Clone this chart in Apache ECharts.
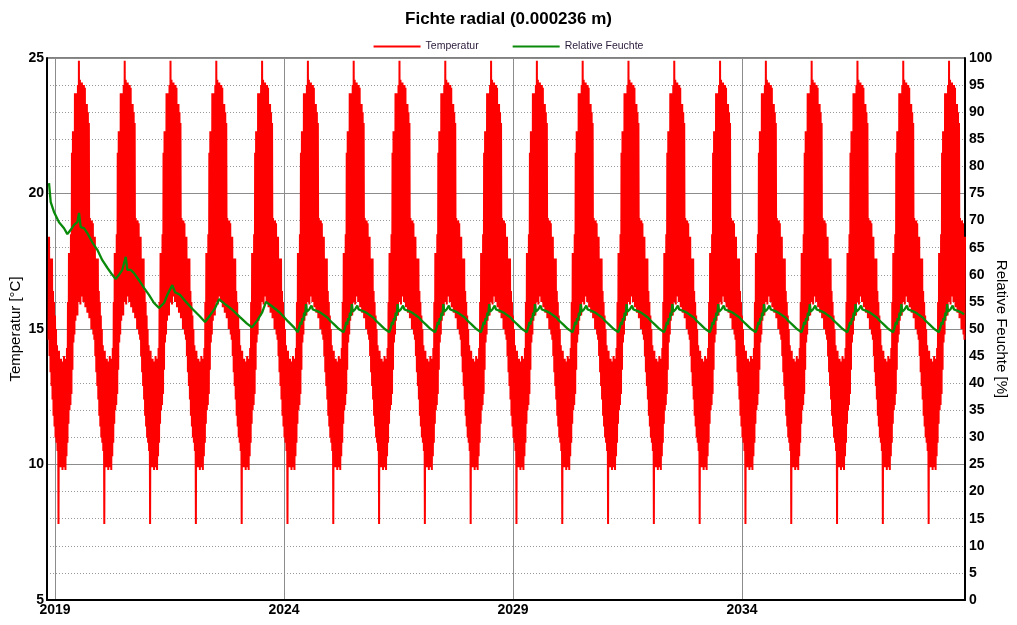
<!DOCTYPE html>
<html><head><meta charset="utf-8">
<script src="https://cdn.jsdelivr.net/npm/echarts@6/dist/echarts.min.js"></script>
<style>html,body{margin:0;padding:0;background:#fff}#c{width:1017px;height:625px}</style>
</head><body><div id="c"></div>
<script>
// ---- data ----
const titleText = 'Fichte radial (0.000236 m)';
const seriesNames = ['Temperatur', 'Relative Feuchte'];
const xTickYears = [2019, 2024, 2029, 2034];
const xStart = 2018.825, xEnd = 2038.87;
const dataStart = 2018.85, dataEnd = 2038.87;
// one climate year of temperature (repeats every year), 46 slots: daily-ish highs and lows [°C]
const tempHigh = [15.5,15.0,14.4,14.0,14.2,13.6,13.9,13.4,13.8,14.0,13.5,13.9,14.3,16.0,17.8,17.2,18.5,21.5,22.3,21.0,23.7,23.6,
  23.7,24.0,24.9,24.2,24.0,24.1,23.8,24.0,23.9,23.3,23.3,23.0,22.6,19.1,18.9,19.0,18.9,18.3,18.4,17.6,17.1,17.6,16.4,16.0];
const tempLow = [11.0,10.8,10.5,7.8,10.2,9.9,10.4,9.8,10.0,9.9,9.8,10.3,10.8,11.5,12.0,12.2,12.6,13.5,14.5,14.8,15.3,15.8,
  15.5,16.0,16.3,15.9,16.2,16.5,16.0,16.4,15.8,16.1,15.6,15.9,15.4,15.5,15.0,15.3,14.8,14.6,14.0,13.4,12.9,12.4,11.8,11.4];
// relative humidity, first years (drying phase) [year, %]
const rhEarlyT = [2018.869,2018.906,2018.978,2019.087,2019.197,2019.269,2019.343,2019.415,2019.487,2019.524,2019.561,2019.633,
  2019.705,2019.814,2019.924,2020.033,2020.142,2020.251,2020.325,2020.397,2020.469,2020.544,2020.579,2020.653,2020.725,2020.834,
  2020.943,2021.052,2021.162,2021.271,2021.380,2021.452,2021.561,2021.620,2021.729,2021.860,2022.013,2022.166,2022.275,2022.384,
  2022.493,2022.581,2022.712,2022.865,2023.039,2023.192,2023.301,2023.410,2023.520,2023.607,2023.738,2023.913,2024.087,2024.218];
const rhEarlyV = [76.9,73.4,71.6,69.7,68.6,67.5,68.3,69.2,69.7,71.4,68.8,68.6,
  67.7,66.0,64.6,62.7,61.3,60.0,59.2,60.0,60.9,63.3,60.9,60.9,60.3,59.0,
  57.6,56.3,54.8,53.9,54.8,56.3,58.1,56.8,56.3,55.0,53.6,52.3,51.3,52.5,
  53.8,55.5,54.6,53.6,52.2,51.0,50.3,51.5,53.0,55.0,54.2,53.0,51.4,50.3];
// relative humidity, steady yearly cycle (from 2024 on): year fraction, %
const rhCycleF = [0.30,0.33,0.36,0.38,0.40,0.42,0.44,0.46,0.48,0.50,0.52,0.55,0.58,0.60,0.63,0.66,0.70,0.75,0.80,0.85,0.90,0.95,1.00,1.05,1.10,1.15,1.20,1.25];
const rhCycleV = [49.4,50.2,51.3,50.8,52.0,51.6,53.0,52.4,54.6,53.2,52.9,53.6,53.9,54.3,53.6,53.5,53.4,53.2,53.0,52.7,52.4,52.1,51.6,51.2,50.8,50.4,50.0,49.7];

// ---- build series ----
const tempData = [];
for (let y = 2018; y <= 2038; y++) {
  for (let k = 0; k < tempHigh.length; k++) {
    const t1 = y + k / tempHigh.length, t2 = y + (k + 0.5) / tempHigh.length;
    if (t1 >= dataStart && t1 <= dataEnd) tempData.push([t1, tempHigh[k]]);
    if (t2 >= dataStart && t2 <= dataEnd) tempData.push([t2, tempLow[k]]);
  }
}
const rhData = rhEarlyT.map((t, i) => [t, rhEarlyV[i]]);
for (let y = 2024; y <= 2038; y++) {
  for (let i = 0; i < rhCycleF.length; i++) {
    const t = y + rhCycleF[i];
    if (t > 2024.25 && t <= dataEnd) rhData.push([t, rhCycleV[i]]);
  }
}

const FONT = '"Liberation Sans", Arial, sans-serif';
const chart = echarts.init(document.getElementById('c'), null, {renderer: 'canvas'});
chart.setOption({
  animation: false,
  backgroundColor: '#fff',
  title: {text: titleText, left: 'center', top: 6,
    textStyle: {fontFamily: FONT, fontSize: 17, fontWeight: 'bold', color: '#000'}},
  legend: {top: 36, left: 'center', itemWidth: 47, itemHeight: 2, itemGap: 34, icon: 'rect',
    textStyle: {fontFamily: FONT, fontSize: 10.5, color: '#2a1a3a'},
    data: seriesNames},
  grid: {left: 47, right: 52, top: 58, bottom: 25, containLabel: false, outerBoundsMode: 'none',
    show: true, borderColor: '#000', borderWidth: 1},
  xAxis: {
    type: 'value', min: xStart, max: xEnd,
    axisLine: {show: true, onZero: false, lineStyle: {color: '#000', width: 2}},
    axisTick: {show: false, customValues: xTickYears},
    axisLabel: {customValues: xTickYears, formatter: v => String(Math.round(v)),
      fontFamily: FONT, fontSize: 14, fontWeight: 'bold', color: '#000', margin: 3},
    splitLine: {show: true, lineStyle: {color: '#8c8c8c', width: 1}}
  },
  yAxis: [{
    type: 'value', min: 5, max: 25, interval: 5, position: 'left',
    name: 'Temperatur [°C]', nameLocation: 'middle', nameGap: 24, nameRotate: 90, nameMoveOverlap: false,
    nameTextStyle: {fontFamily: FONT, fontSize: 15, color: '#000'},
    axisLine: {show: true, onZero: false, lineStyle: {color: '#000', width: 2}},
    axisTick: {show: false},
    axisLabel: {fontFamily: FONT, fontSize: 14, fontWeight: 'bold', color: '#000', margin: 3},
    splitLine: {show: true, lineStyle: {color: '#8c8c8c', width: 1}},
    minorTick: {show: false, splitNumber: 5},
    minorSplitLine: {show: true, lineStyle: {color: '#9a9a9a', width: 1, type: [1, 2]}}
  }, {
    type: 'value', min: 0, max: 100, interval: 5, position: 'right',
    name: 'Relative Feuchte [%]', nameLocation: 'middle', nameGap: 29, nameRotate: -90, nameMoveOverlap: false,
    nameTextStyle: {fontFamily: FONT, fontSize: 15, color: '#000'},
    axisLine: {show: true, onZero: false, lineStyle: {color: '#000', width: 2}},
    axisTick: {show: false},
    axisLabel: {fontFamily: FONT, fontSize: 14, fontWeight: 'bold', color: '#000', margin: 4},
    splitLine: {show: false}
  }],
  series: [{
    name: seriesNames[0], type: 'line', yAxisIndex: 0, data: tempData,
    showSymbol: false, symbol: 'none', sampling: null,
    lineStyle: {color: '#ff0000', width: 2}, itemStyle: {color: '#ff0000'}, z: 2
  }, {
    name: seriesNames[1], type: 'line', yAxisIndex: 1, data: rhData,
    showSymbol: false, symbol: 'none',
    lineStyle: {color: '#0a8a0a', width: 2.3}, itemStyle: {color: '#0a8a0a'}, z: 3
  }]
});
</script></body></html>
